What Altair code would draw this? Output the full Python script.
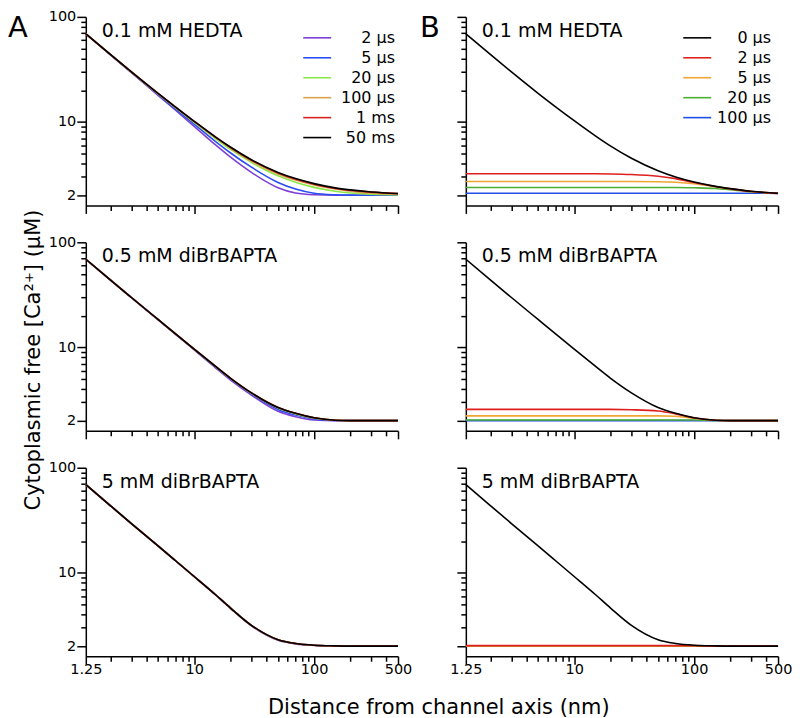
import altair as alt
import pandas as pd

FONT = "DejaVu Sans"

# distance from channel axis (nm) at which curves were read
X_NM = [1.25, 2, 3, 5, 7, 10, 15, 20, 30, 50, 70, 100, 150, 200, 300, 500]

A_SERIES = ["2 µs", "5 µs", "20 µs", "100 µs", "1 ms", "50 ms"]
A_COLORS = ["#7d3fd8", "#2a4df2", "#8be649", "#dba24b", "#d92222", "#000000"]
B_SERIES = ["0 µs", "2 µs", "5 µs", "20 µs", "100 µs"]
B_COLORS = ["#000000", "#e01f1f", "#f0a632", "#4db033", "#1f4fe6"]

PANEL_LABELS = ["0.1 mM HEDTA", "0.5 mM diBrBAPTA", "5 mM diBrBAPTA"]
Y_TITLE = "Cytoplasmic free [Ca²⁺]  (µM)"
X_TITLE = "Distance from channel axis (nm)"

# ---- column A : 0.1 mM HEDTA ----
A1 = {
    "2 µs":   [69, 43.7, 29.5, 17.9, 12.9, 9.07, 6.06, 4.63, 3.3, 2.36, 2.1, 2.02, 2.0, 2.0, 2.0, 2.0],
    "5 µs":   [69, 43.6, 29.6, 18.2, 13.2, 9.5, 6.52, 5.08, 3.7, 2.65, 2.29, 2.09, 2.02, 2.005, 2.0, 2.0],
    "20 µs":  [69, 43.9, 29.8, 18.5, 13.6, 9.89, 6.94, 5.49, 4.12, 3.06, 2.66, 2.375, 2.18, 2.1, 2.045, 2.015],
    "100 µs": [69, 43.9, 29.9, 18.6, 13.78, 10.05, 7.1, 5.64, 4.24, 3.19, 2.79, 2.5, 2.29, 2.19, 2.09, 2.04],
    "1 ms":   [69, 43.9, 29.9, 18.66, 13.83, 10.12, 7.18, 5.73, 4.31, 3.26, 2.84, 2.55, 2.32, 2.23, 2.14, 2.07],
    "50 ms":  [69, 43.9, 29.9, 18.66, 13.83, 10.13, 7.2, 5.76, 4.36, 3.3, 2.88, 2.58, 2.35, 2.25, 2.15, 2.075],
}
# ---- column A : 0.5 mM diBrBAPTA ----
A2 = {
    "2 µs":   [69, 43.8, 29.7, 18.3, 13.3, 9.45, 6.4, 4.9, 3.51, 2.46, 2.18, 2.03, 2.0, 2.0, 2.0, 2.0],
    "5 µs":   [69, 43.8, 29.75, 18.35, 13.35, 9.53, 6.5, 5.0, 3.6, 2.56, 2.26, 2.08, 2.01, 2.0, 2.0, 2.0],
    "20 µs":  [69, 43.8, 29.8, 18.4, 13.4, 9.58, 6.57, 5.06, 3.65, 2.64, 2.32, 2.11, 2.02, 2.0, 2.0, 2.0],
    "100 µs": [69, 43.8, 29.8, 18.4, 13.4, 9.6, 6.6, 5.09, 3.68, 2.67, 2.35, 2.13, 2.02, 2.003, 2.0, 2.0],
    "1 ms":   [69, 43.8, 29.8, 18.4, 13.4, 9.6, 6.6, 5.09, 3.68, 2.67, 2.35, 2.13, 2.02, 2.003, 2.0, 2.0],
    "50 ms":  [69, 43.8, 29.8, 18.4, 13.4, 9.6, 6.6, 5.09, 3.68, 2.67, 2.35, 2.13, 2.02, 2.003, 2.0, 2.0],
}
# ---- column A : 5 mM diBrBAPTA ----
A3 = {
    "2 µs":   [69, 43.6, 29.4, 18.0, 13.0, 9.18, 6.17, 4.6, 3.12, 2.27, 2.1, 2.03, 2.0, 2.0, 2.0, 2.0],
    "5 µs":   [69, 43.6, 29.4, 18.0, 13.0, 9.2, 6.2, 4.63, 3.15, 2.3, 2.12, 2.04, 2.01, 2.0, 2.0, 2.0],
    "20 µs":  [69, 43.6, 29.4, 18.0, 13.0, 9.2, 6.2, 4.63, 3.15, 2.3, 2.12, 2.04, 2.01, 2.0, 2.0, 2.0],
    "100 µs": [69, 43.6, 29.4, 18.0, 13.0, 9.2, 6.2, 4.63, 3.15, 2.3, 2.12, 2.04, 2.01, 2.0, 2.0, 2.0],
    "1 ms":   [69, 43.6, 29.4, 18.0, 13.0, 9.2, 6.2, 4.63, 3.15, 2.3, 2.12, 2.04, 2.01, 2.0, 2.0, 2.0],
    "50 ms":  [69, 43.6, 29.4, 18.0, 13.0, 9.2, 6.2, 4.63, 3.15, 2.3, 2.12, 2.04, 2.01, 2.0, 2.0, 2.0],
}
# ---- column B : 0.1 mM HEDTA ----
B1 = {
    "0 µs":   [69, 43.9, 29.9, 18.7, 13.9, 10.25, 7.35, 5.9, 4.5, 3.42, 2.98, 2.67, 2.43, 2.31, 2.18, 2.09],
    "2 µs":   [3.2, 3.2, 3.2, 3.2, 3.2, 3.2, 3.2, 3.19, 3.15, 3.03, 2.88, 2.64, 2.42, 2.3, 2.17, 2.085],
    "5 µs":   [2.7, 2.7, 2.7, 2.7, 2.7, 2.7, 2.7, 2.7, 2.7, 2.69, 2.66, 2.58, 2.41, 2.3, 2.17, 2.085],
    "20 µs":  [2.37, 2.37, 2.37, 2.37, 2.37, 2.37, 2.37, 2.37, 2.37, 2.37, 2.37, 2.355, 2.32, 2.26, 2.16, 2.085],
    "100 µs": [2.09, 2.09, 2.09, 2.09, 2.09, 2.09, 2.09, 2.09, 2.09, 2.09, 2.09, 2.09, 2.09, 2.09, 2.09, 2.085],
}
# ---- column B : 0.5 mM diBrBAPTA ----
B2 = {
    "0 µs":   [69, 43.8, 29.8, 18.4, 13.4, 9.6, 6.6, 5.09, 3.68, 2.67, 2.35, 2.13, 2.02, 2.003, 2.0, 2.0],
    "2 µs":   [2.56, 2.56, 2.56, 2.56, 2.56, 2.56, 2.56, 2.56, 2.54, 2.47, 2.32, 2.12, 2.02, 2.003, 2.0, 2.0],
    "5 µs":   [2.22, 2.22, 2.22, 2.22, 2.22, 2.22, 2.22, 2.22, 2.22, 2.22, 2.2, 2.1, 2.02, 2.003, 2.0, 2.0],
    "20 µs":  [2.03, 2.03, 2.03, 2.03, 2.03, 2.03, 2.03, 2.03, 2.03, 2.03, 2.03, 2.03, 2.01, 2.0, 2.0, 2.0],
    "100 µs": [2.0, 2.0, 2.0, 2.0, 2.0, 2.0, 2.0, 2.0, 2.0, 2.0, 2.0, 2.0, 2.0, 2.0, 2.0, 2.0],
}
# ---- column B : 5 mM diBrBAPTA ----
B3 = {
    "0 µs":   [69, 43.6, 29.4, 18.0, 13.0, 9.2, 6.2, 4.63, 3.15, 2.3, 2.12, 2.04, 2.01, 2.0, 2.0, 2.0],
    "2 µs":   [2.02, 2.02, 2.02, 2.02, 2.02, 2.02, 2.02, 2.02, 2.02, 2.02, 2.02, 2.02, 2.0, 2.0, 2.0, 2.0],
    "5 µs":   [2.01, 2.01, 2.01, 2.01, 2.01, 2.01, 2.01, 2.01, 2.01, 2.01, 2.01, 2.01, 2.0, 2.0, 2.0, 2.0],
    "20 µs":  [2.0, 2.0, 2.0, 2.0, 2.0, 2.0, 2.0, 2.0, 2.0, 2.0, 2.0, 2.0, 2.0, 2.0, 2.0, 2.0],
    "100 µs": [2.0, 2.0, 2.0, 2.0, 2.0, 2.0, 2.0, 2.0, 2.0, 2.0, 2.0, 2.0, 2.0, 2.0, 2.0, 2.0],
}

Y_TICKS = [2, 3, 4, 5, 6, 7, 8, 9, 10, 20, 30, 40, 50, 60, 70, 80, 90, 100]
Y_MAJOR = "indexof([2, 10, 100], datum.value) >= 0"
X_TICKS = [1.25, 2, 3, 4, 5, 6, 7, 8, 9, 10, 20, 30, 40, 50, 60, 70, 80, 90, 100, 200, 300, 400, 500]
X_MAJOR = "indexof([1.25, 10, 100, 500], datum.value) >= 0"

W, H = 313, 189


def to_frame(d):
    rows = []
    for s, ys in d.items():
        for x, y in zip(X_NM, ys):
            rows.append({"x": x, "y": y, "series": s})
    return pd.DataFrame(rows)


def text_layer(txt, x, y, size, align="left", angle=0, baseline="alphabetic"):
    return alt.Chart(pd.DataFrame({"t": [txt]})).mark_text(
        font=FONT, fontSize=size, color="black", align=align, baseline=baseline, angle=angle
    ).encode(text="t:N", x=alt.value(x), y=alt.value(y))


def panel(data, series, colors, draw_order, label, legend_cfg, show_xlabels, show_ylabels, extras):
    df = to_frame(data)
    xaxis = alt.Axis(
        values=X_TICKS, labels=show_xlabels, title=None, format="~g",
        labelExpr=f"{X_MAJOR} ? datum.label : ''", labelOverlap=False, labelFlush=False,
        tickSize={"condition": {"test": X_MAJOR, "value": 8}, "value": 5},
        labelPadding=-2,
    )
    yaxis = alt.Axis(
        values=Y_TICKS, labels=show_ylabels, title=None, format="~g",
        labelExpr=f"{Y_MAJOR} ? datum.label : ''", labelOverlap=False, labelFlush=False,
        tickSize={"condition": {"test": Y_MAJOR, "value": 9}, "value": 5},
        labelPadding=1,
    )
    if legend_cfg:
        legend = alt.Legend(
            orient="none", legendX=legend_cfg[0], legendY=13, title=None,
            symbolType="M-2,0H2", symbolSize=196, symbolStrokeWidth=1.6,
            labelAlign="right", labelOffset=legend_cfg[1], labelFontSize=16, labelFont=FONT,
            labelColor="black", rowPadding=4, padding=0, labelLimit=300,
        )
    else:
        legend = None
    layers = []
    for s in draw_order:
        layers.append(
            alt.Chart(df).transform_filter(alt.datum.series == s)
            .mark_line(strokeWidth=1.6, interpolate="monotone")
            .encode(
                x=alt.X("x:Q", scale=alt.Scale(type="log", domain=[1.25, 500], nice=False), axis=xaxis),
                y=alt.Y("y:Q", scale=alt.Scale(type="log", domain=[1.6, 100], nice=False), axis=yaxis),
                color=alt.Color("series:N", scale=alt.Scale(domain=series, range=colors), legend=legend),
            )
        )
    layers.append(text_layer(label, 16, 20, 19))
    layers.extend(extras)
    return alt.layer(*layers).properties(width=W, height=H)


A_ORDER = A_SERIES
B_ORDER = ["100 µs", "20 µs", "5 µs", "2 µs", "0 µs"]

colA = alt.vconcat(
    panel(A1, A_SERIES, A_COLORS, A_ORDER, PANEL_LABELS[0], (224, 70), False, True,
          [text_layer("A", -78, 20, 29)]),
    panel(A2, A_SERIES, A_COLORS, A_ORDER, PANEL_LABELS[1], None, False, True,
          [text_layer(Y_TITLE, -52, 118, 21, align="center", angle=270, baseline="middle")]),
    panel(A3, A_SERIES, A_COLORS, A_ORDER, PANEL_LABELS[2], None, True, True, []),
    spacing=37, bounds="flush",
).resolve_scale(color="independent")

colB = alt.vconcat(
    panel(B1, B_SERIES, B_COLORS, B_ORDER, PANEL_LABELS[0], (224, 66), False, False,
          [text_layer("B", -46, 20, 29)]),
    panel(B2, B_SERIES, B_COLORS, B_ORDER, PANEL_LABELS[1], None, False, False, []),
    panel(B3, B_SERIES, B_COLORS, B_ORDER, PANEL_LABELS[2], None, True, False, []),
    spacing=37, bounds="flush",
).resolve_scale(color="independent")

chart = alt.hconcat(colA, colB, spacing=8).resolve_scale(color="independent").properties(
    title=alt.TitleParams(X_TITLE, orient="bottom", anchor="middle", dx=39,
                          fontSize=21, font=FONT, fontWeight="normal", color="black", offset=21)
).configure_view(stroke=None).configure_axis(
    domainColor="black", domainWidth=1.5, tickColor="black", tickWidth=1.5,
    labelFont=FONT, labelFontSize=14.5, labelColor="black", grid=False,
).properties(padding=0)

chart.save("out.html", embed_options={"renderer": "svg", "actions": False})
